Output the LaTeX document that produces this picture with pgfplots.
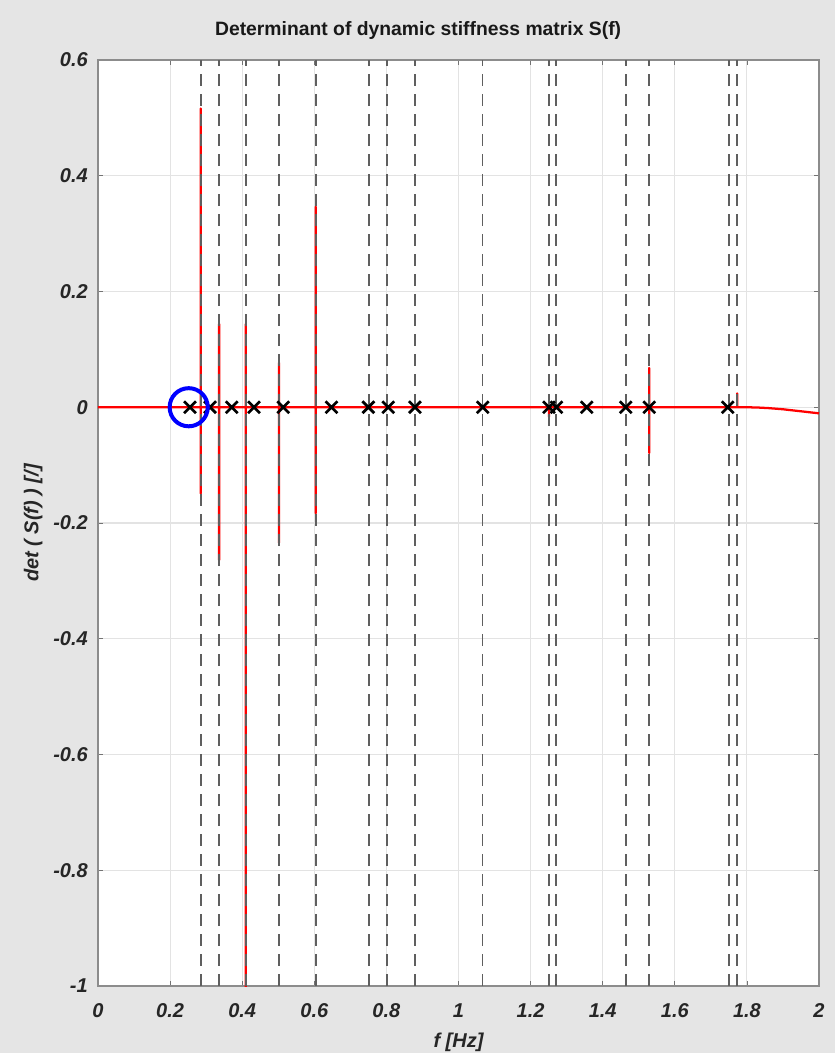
\documentclass[border=0pt]{standalone}
\usepackage{pgfplots}
\pgfplotsset{compat=1.18}
\usepackage{fontspec}
\setmainfont{Liberation Sans}
\usetikzlibrary{backgrounds}
\definecolor{figbg}{RGB}{229,229,229}
\definecolor{axgray}{RGB}{38,38,38}
\definecolor{dashgray}{RGB}{95,95,95}
\begin{document}
\begin{tikzpicture}
\begin{axis}[
  name=ax,
  scale only axis,
  width=540.75pt, height=694.5pt,
  xmin=0, xmax=2, ymin=-1, ymax=0.6,
  xtick={0,0.2,0.4,0.6,0.8,1,1.2,1.4,1.6,1.8,2},
  ytick={-1,-0.8,-0.6,-0.4,-0.2,0,0.2,0.4,0.6},
  /pgf/number format/assume math mode=true,
  /pgf/number format/fixed,
  ticklabel style={font=\fontsize{15}{18}\selectfont\bfseries\itshape, text=axgray},
  xticklabel style={anchor=base, yshift=-23.5pt, inner sep=0pt},
  yticklabel style={anchor=east, xshift=-7.5pt, inner sep=0pt},
  tick align=inside,
  major tick length=3.5pt,
  tick style={black!55, line width=0.6pt},
  axis line style={black!45, line width=0.8pt},
  grid=major,
  major grid style={black!11, line width=0.8pt},
  axis background/.style={fill=white},
  title={Determinant of dynamic stiffness matrix S(f)},
  title style={at={(0.444,1)}, anchor=base, yshift=12pt, font=\fontsize{14.5}{17}\selectfont\bfseries, text=black!90, inner sep=0pt},
  xlabel={f [Hz]},
  xlabel style={at={(axis description cs:0.5,0)}, anchor=base, yshift=-46pt, font=\fontsize{15}{18}\selectfont\bfseries\itshape, text=axgray, inner sep=0pt},
  ylabel={det ( S(f) ) [/]},
  ylabel style={at={(axis description cs:-0.09,0.5)}, anchor=center, font=\fontsize{15}{18}\selectfont\bfseries\itshape, text=axgray, inner sep=0pt},
]
% determinant curve
\addplot[red, line width=1.7pt, line join=round] coordinates {
(0,0)
(0.285,0) (0.285,0.516) (0.285,-0.149) (0.285,0)
(0.336,0) (0.336,0.144) (0.336,-0.264) (0.336,0)
(0.410,0) (0.410,0.144) (0.410,-1.2) (0.410,0)
(0.502,0) (0.502,0.077) (0.502,-0.234) (0.502,0)
(0.604,0) (0.604,0.3465) (0.604,-0.183) (0.604,0)
(1.251,0) (1.251,-0.017) (1.251,0)
(1.529,0) (1.529,0.068) (1.529,-0.079) (1.529,0)
(1.773,0) (1.773,0.024) (1.773,0)
(1.80,0) (1.83,-0.0005) (1.86,-0.0015) (1.90,-0.0035) (1.95,-0.007) (2,-0.0105)
};
% dashed vertical lines
\addplot[dashgray, line width=1.2pt, dash pattern=on 9pt off 6pt] coordinates {(0.285,-1) (0.285,0.6)};
\addplot[dashgray, line width=1.2pt, dash pattern=on 9pt off 6pt] coordinates {(0.336,-1) (0.336,0.6)};
\addplot[dashgray, line width=1.2pt, dash pattern=on 9pt off 6pt] coordinates {(0.410,-1) (0.410,0.6)};
\addplot[dashgray, line width=1.2pt, dash pattern=on 9pt off 6pt] coordinates {(0.502,-1) (0.502,0.6)};
\addplot[dashgray, line width=1.2pt, dash pattern=on 9pt off 6pt] coordinates {(0.604,-1) (0.604,0.6)};
\addplot[dashgray, line width=1.2pt, dash pattern=on 9pt off 6pt] coordinates {(0.752,-1) (0.752,0.6)};
\addplot[dashgray, line width=1.2pt, dash pattern=on 9pt off 6pt] coordinates {(0.802,-1) (0.802,0.6)};
\addplot[dashgray, line width=1.2pt, dash pattern=on 9pt off 6pt] coordinates {(0.879,-1) (0.879,0.6)};
\addplot[dashgray, line width=1.2pt, dash pattern=on 9pt off 6pt] coordinates {(1.067,-1) (1.067,0.6)};
\addplot[dashgray, line width=1.2pt, dash pattern=on 9pt off 6pt] coordinates {(1.251,-1) (1.251,0.6)};
\addplot[dashgray, line width=1.2pt, dash pattern=on 9pt off 6pt] coordinates {(1.270,-1) (1.270,0.6)};
\addplot[dashgray, line width=1.2pt, dash pattern=on 9pt off 6pt] coordinates {(1.464,-1) (1.464,0.6)};
\addplot[dashgray, line width=1.2pt, dash pattern=on 9pt off 6pt] coordinates {(1.529,-1) (1.529,0.6)};
\addplot[dashgray, line width=1.2pt, dash pattern=on 9pt off 6pt] coordinates {(1.751,-1) (1.751,0.6)};
\addplot[dashgray, line width=1.2pt, dash pattern=on 9pt off 6pt] coordinates {(1.773,-1) (1.773,0.6)};
% roots
\addplot[only marks, mark=x, mark size=6.3pt, line width=2pt, black] coordinates {
(0.255,0) (0.311,0) (0.371,0) (0.433,0) (0.514,0) (0.648,0) (0.750,0) (0.805,0)
(0.879,0) (1.067,0) (1.251,0) (1.272,0) (1.356,0) (1.464,0) (1.529,0) (1.747,0)
};
% highlighted root
\addplot[only marks, mark=o, mark size=14.3pt, line width=3pt, blue] coordinates {(0.2516,0)};
\end{axis}
\begin{pgfonlayer}{background}
\fill[figbg] ([xshift=-73.5pt,yshift=-50.25pt]ax.south west) rectangle ([xshift=12pt,yshift=45pt]ax.north east);
\end{pgfonlayer}
\pgfresetboundingbox
\useasboundingbox ([xshift=-73.5pt,yshift=-50.25pt]ax.south west) rectangle ([xshift=12pt,yshift=45pt]ax.north east);
\end{tikzpicture}
\end{document}
